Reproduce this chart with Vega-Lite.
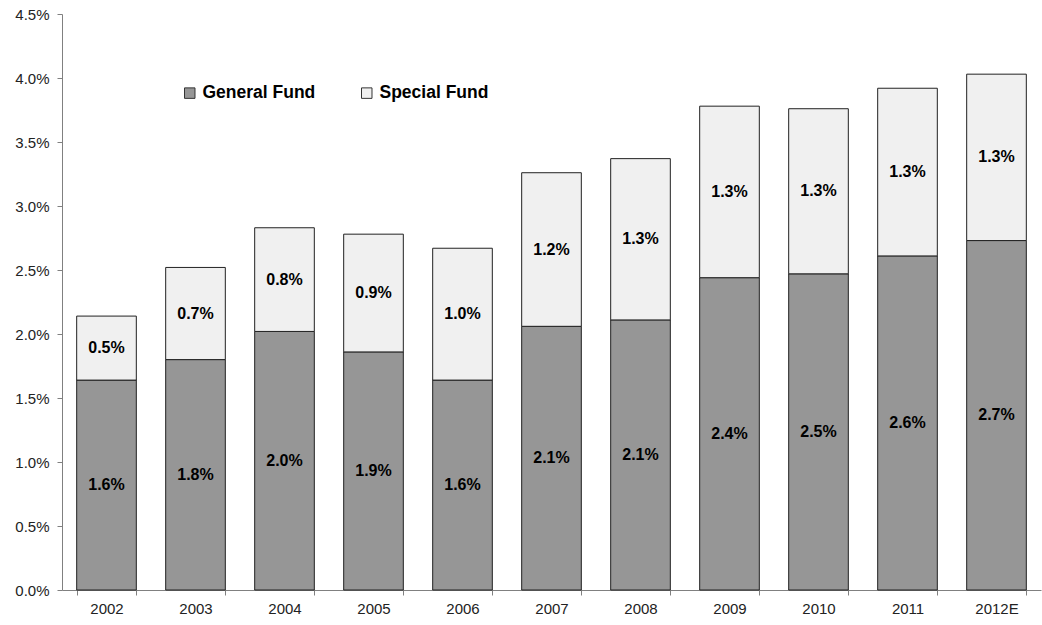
{
  "$schema": "https://vega.github.io/schema/vega-lite/v6.json",
  "width": 979,
  "height": 576,
  "autosize": {"type": "none"},
  "padding": {"left": 62, "top": 14, "right": 1, "bottom": 35},
  "background": "white",
  "config": {
    "view": {"stroke": null},
    "font": "Liberation Sans"
  },
  "data": {
    "values": [
      {"year": "2002", "fund": "General Fund", "value": 0.0164},
      {"year": "2002", "fund": "Special Fund", "value": 0.0050},
      {"year": "2003", "fund": "General Fund", "value": 0.0180},
      {"year": "2003", "fund": "Special Fund", "value": 0.0072},
      {"year": "2004", "fund": "General Fund", "value": 0.0202},
      {"year": "2004", "fund": "Special Fund", "value": 0.0081},
      {"year": "2005", "fund": "General Fund", "value": 0.0186},
      {"year": "2005", "fund": "Special Fund", "value": 0.0092},
      {"year": "2006", "fund": "General Fund", "value": 0.0164},
      {"year": "2006", "fund": "Special Fund", "value": 0.0103},
      {"year": "2007", "fund": "General Fund", "value": 0.0206},
      {"year": "2007", "fund": "Special Fund", "value": 0.0120},
      {"year": "2008", "fund": "General Fund", "value": 0.0211},
      {"year": "2008", "fund": "Special Fund", "value": 0.0126},
      {"year": "2009", "fund": "General Fund", "value": 0.0244},
      {"year": "2009", "fund": "Special Fund", "value": 0.0134},
      {"year": "2010", "fund": "General Fund", "value": 0.0247},
      {"year": "2010", "fund": "Special Fund", "value": 0.0129},
      {"year": "2011", "fund": "General Fund", "value": 0.0261},
      {"year": "2011", "fund": "Special Fund", "value": 0.0131},
      {"year": "2012E", "fund": "General Fund", "value": 0.0273},
      {"year": "2012E", "fund": "Special Fund", "value": 0.0130}
    ]
  },
  "encoding": {
    "x": {
      "field": "year",
      "type": "nominal",
      "sort": null,
      "scale": {"paddingInner": 0.33, "paddingOuter": 0.165},
      "axis": {
        "title": null,
        "labelAngle": 0,
        "tickBand": "extent",
        "domainColor": "#808080",
        "tickColor": "#808080",
        "tickSize": 5,
        "labelFontSize": 15,
        "labelColor": "#222222",
        "labelPadding": 6
      }
    }
  },
  "layer": [
    {
      "mark": {"type": "bar", "stroke": "#222222", "strokeWidth": 1},
      "encoding": {
        "y": {
          "field": "value",
          "type": "quantitative",
          "stack": "zero",
          "scale": {"domain": [0, 0.045], "nice": false},
          "axis": {
            "title": null,
            "format": ".1%",
            "values": [0, 0.005, 0.01, 0.015, 0.02, 0.025, 0.03, 0.035, 0.04, 0.045],
            "grid": false,
            "domainColor": "#808080",
            "tickColor": "#808080",
            "tickSize": 5,
            "labelFontSize": 15,
            "labelColor": "#222222",
            "labelPadding": 8
          }
        },
        "color": {
          "field": "fund",
          "type": "nominal",
          "scale": {"domain": ["General Fund", "Special Fund"], "range": ["#969696", "#f0f0f0"]},
          "legend": {
            "title": null,
            "orient": "none",
            "legendX": 119,
            "legendY": 70,
            "direction": "horizontal",
            "symbolType": "square",
            "symbolSize": 110,
            "symbolStrokeColor": "#333333",
            "symbolStrokeWidth": 1,
            "symbolOpacity": 1,
            "labelFontSize": 17.5,
            "labelFontWeight": "bold",
            "labelColor": "#000000",
            "labelOffset": 4,
            "columnPadding": 42
          }
        },
        "order": {"field": "fund", "sort": "ascending"}
      }
    },
    {
      "transform": [
        {"stack": "value", "groupby": ["year"], "sort": [{"field": "fund", "order": "ascending"}], "as": ["v0", "v1"]},
        {"calculate": "(datum.v0 + datum.v1) / 2", "as": "mid"}
      ],
      "mark": {"type": "text", "fontSize": 16, "fontWeight": "bold", "color": "#000000", "baseline": "middle"},
      "encoding": {
        "y": {"field": "mid", "type": "quantitative"},
        "text": {"field": "value", "type": "quantitative", "format": ".1%"}
      }
    }
  ]
}
